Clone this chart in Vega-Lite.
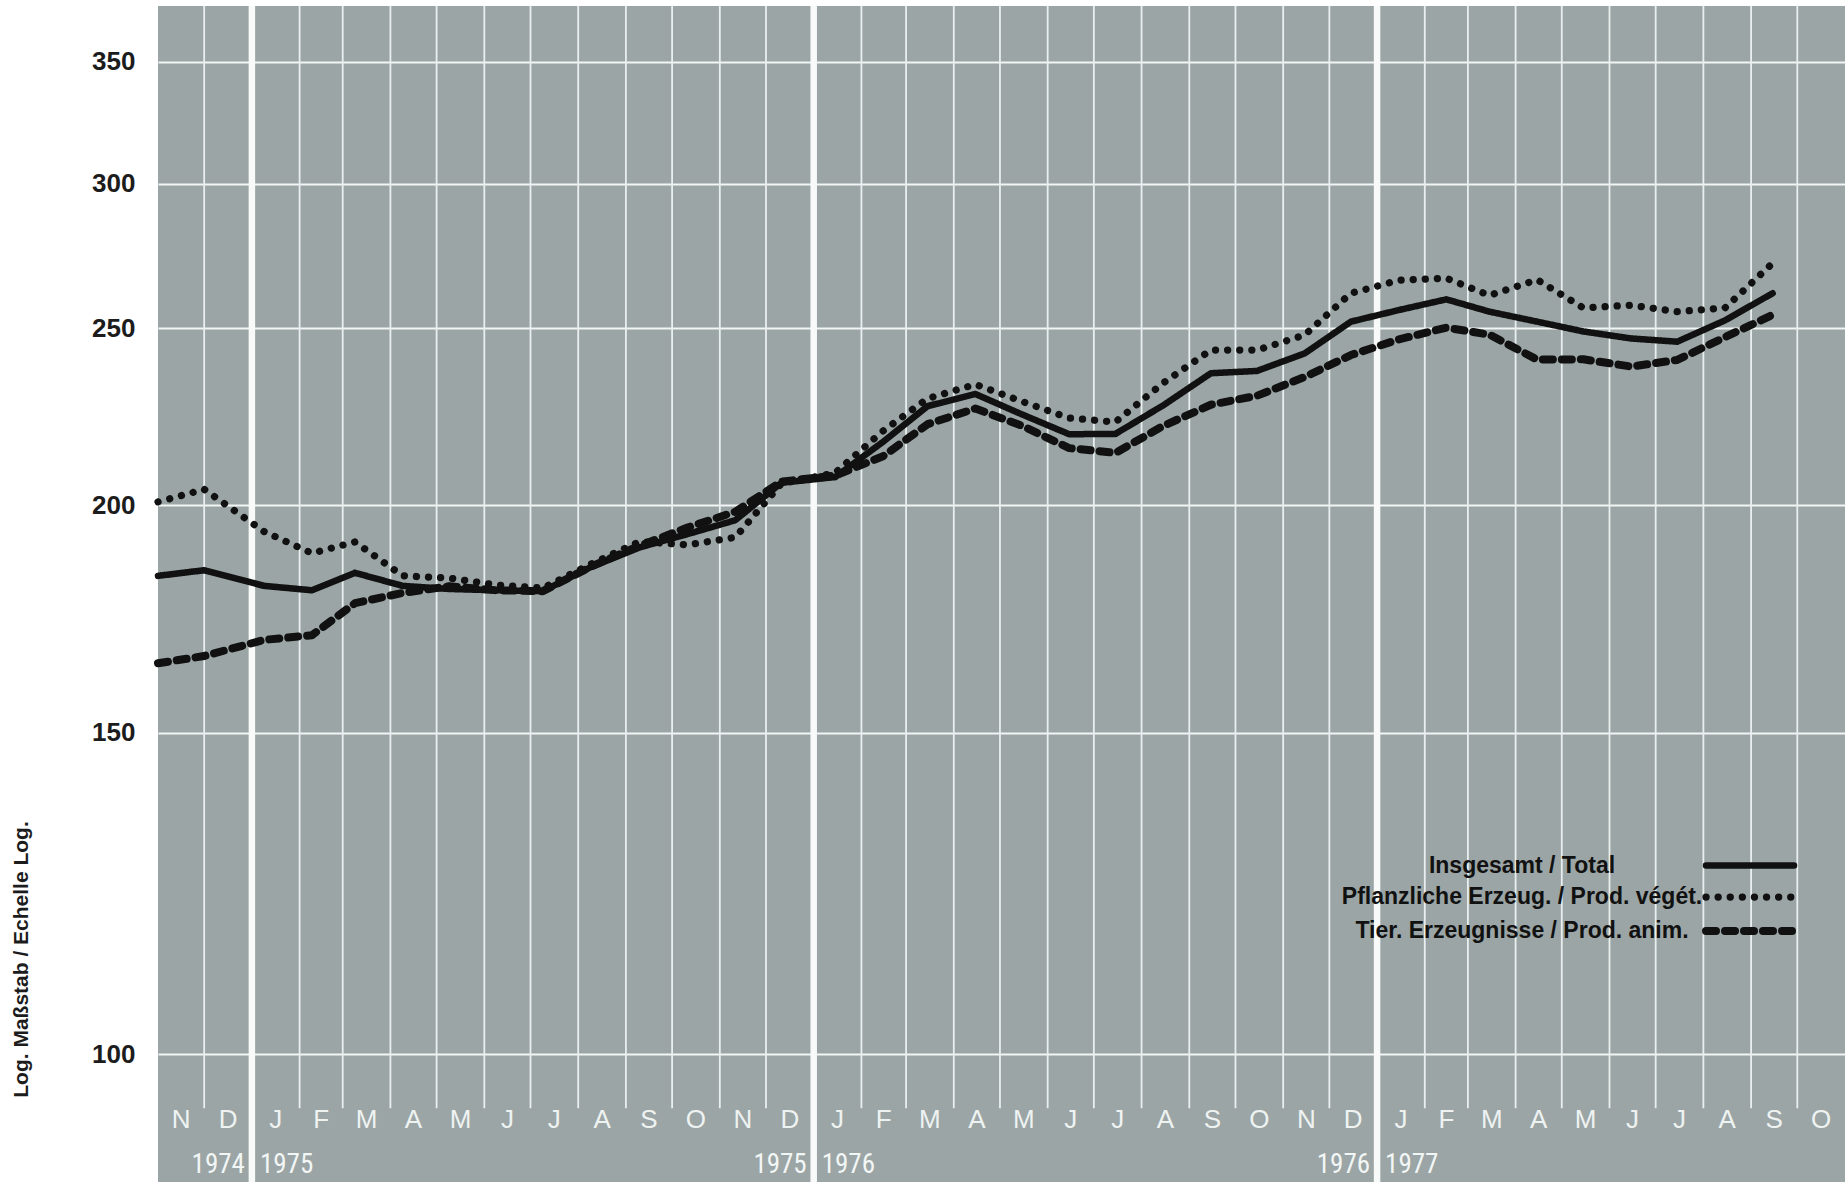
{
  "$schema": "https://vega.github.io/schema/vega-lite/v6.json",
  "width": 1687,
  "height": 1176,
  "autosize": "none",
  "padding": {"left": 158, "top": 6, "right": 0, "bottom": 0},
  "background": "white",
  "config": {"view": {"fill": "#9ba5a5", "stroke": null}, "font": "Liberation Sans"},
  "datasets": {
    "months": [
      {"date": "1974-11-01", "m": "N"}, {"date": "1974-12-01", "m": "D"},
      {"date": "1975-01-01", "m": "J"}, {"date": "1975-02-01", "m": "F"}, {"date": "1975-03-01", "m": "M"}, {"date": "1975-04-01", "m": "A"},
      {"date": "1975-05-01", "m": "M"}, {"date": "1975-06-01", "m": "J"}, {"date": "1975-07-01", "m": "J"}, {"date": "1975-08-01", "m": "A"},
      {"date": "1975-09-01", "m": "S"}, {"date": "1975-10-01", "m": "O"}, {"date": "1975-11-01", "m": "N"}, {"date": "1975-12-01", "m": "D"},
      {"date": "1976-01-01", "m": "J"}, {"date": "1976-02-01", "m": "F"}, {"date": "1976-03-01", "m": "M"}, {"date": "1976-04-01", "m": "A"},
      {"date": "1976-05-01", "m": "M"}, {"date": "1976-06-01", "m": "J"}, {"date": "1976-07-01", "m": "J"}, {"date": "1976-08-01", "m": "A"},
      {"date": "1976-09-01", "m": "S"}, {"date": "1976-10-01", "m": "O"}, {"date": "1976-11-01", "m": "N"}, {"date": "1976-12-01", "m": "D"},
      {"date": "1977-01-01", "m": "J"}, {"date": "1977-02-01", "m": "F"}, {"date": "1977-03-01", "m": "M"}, {"date": "1977-04-01", "m": "A"},
      {"date": "1977-05-01", "m": "M"}, {"date": "1977-06-01", "m": "J"}, {"date": "1977-07-01", "m": "J"}, {"date": "1977-08-01", "m": "A"},
      {"date": "1977-09-01", "m": "S"}, {"date": "1977-10-01", "m": "O"}
    ],
    "series": [
      {"date": "1974-11-01", "t": 182.9, "p": 200.8, "a": 163.8},
      {"date": "1974-12-01", "t": 184.2, "p": 204.0, "a": 165.3},
      {"date": "1975-01-09", "t": 180.6, "p": 193.4, "a": 168.7},
      {"date": "1975-02-09", "t": 179.6, "p": 188.2, "a": 169.7},
      {"date": "1975-03-09", "t": 183.6, "p": 190.9, "a": 176.7},
      {"date": "1975-04-09", "t": 180.6, "p": 182.9, "a": 179.0},
      {"date": "1975-05-09", "t": 179.9, "p": 182.4, "a": 180.5},
      {"date": "1975-06-09", "t": 179.6, "p": 180.8, "a": 179.6},
      {"date": "1975-07-09", "t": 179.4, "p": 180.1, "a": 179.4},
      {"date": "1975-08-09", "t": 184.9, "p": 185.6, "a": 185.0},
      {"date": "1975-09-10", "t": 189.6, "p": 191.0, "a": 190.0},
      {"date": "1975-10-11", "t": 192.8, "p": 190.2, "a": 194.4},
      {"date": "1975-11-11", "t": 196.2, "p": 192.0, "a": 198.3},
      {"date": "1975-12-11", "t": 205.7, "p": 205.5, "a": 206.0},
      {"date": "1976-01-15", "t": 207.2, "p": 208.3, "a": 207.6},
      {"date": "1976-02-15", "t": 216.6, "p": 219.6, "a": 212.7},
      {"date": "1976-03-15", "t": 226.6, "p": 228.8, "a": 221.5},
      {"date": "1976-04-15", "t": 230.1, "p": 232.9, "a": 225.9},
      {"date": "1976-05-15", "t": 224.3, "p": 228.0, "a": 221.1},
      {"date": "1976-06-15", "t": 218.7, "p": 223.2, "a": 214.9},
      {"date": "1976-07-15", "t": 218.8, "p": 222.1, "a": 213.6},
      {"date": "1976-08-15", "t": 226.8, "p": 233.3, "a": 221.0},
      {"date": "1976-09-15", "t": 236.2, "p": 243.2, "a": 227.0},
      {"date": "1976-10-15", "t": 236.9, "p": 243.2, "a": 229.6},
      {"date": "1976-11-15", "t": 242.2, "p": 247.9, "a": 235.1},
      {"date": "1976-12-15", "t": 252.1, "p": 261.3, "a": 241.7},
      {"date": "1977-01-15", "t": 255.8, "p": 265.6, "a": 246.5},
      {"date": "1977-02-15", "t": 259.3, "p": 266.3, "a": 250.2},
      {"date": "1977-03-15", "t": 255.3, "p": 260.6, "a": 248.0},
      {"date": "1977-04-15", "t": 252.1, "p": 265.8, "a": 240.3},
      {"date": "1977-05-15", "t": 249.0, "p": 256.5, "a": 240.4},
      {"date": "1977-06-15", "t": 246.8, "p": 257.4, "a": 238.2},
      {"date": "1977-07-15", "t": 245.8, "p": 255.3, "a": 240.2},
      {"date": "1977-08-15", "t": 252.5, "p": 256.5, "a": 247.2},
      {"date": "1977-09-15", "t": 261.3, "p": 271.4, "a": 254.3}
    ]
  },
  "layer": [
    {
      "data": {"name": "months"},
      "transform": [{"filter": "utcmonth(datum.date) != 0 && utcyear(datum.date) + utcmonth(datum.date) / 12 > 1974.9"}],
      "mark": {"type": "rule", "color": "#e9efee", "strokeWidth": 1.8},
      "encoding": {
        "x": {"field": "date", "type": "temporal", "axis": null,
              "scale": {"type": "utc", "domain": [{"year": 1974, "month": 11, "date": 1, "utc": true}, {"year": 1977, "month": 11, "date": 1, "utc": true}]}},
        "y": {"datum": 375.5},
        "y2": {"datum": 93.4}
      }
    },
    {
      "data": {"name": "months"},
      "transform": [{"filter": "utcmonth(datum.date) == 0"}],
      "mark": {"type": "rule", "color": "#f8faf9", "strokeWidth": 6.5},
      "encoding": {
        "x": {"field": "date", "type": "temporal", "axis": null}
      }
    },
    {
      "data": {"name": "months"},
      "mark": {"type": "text", "color": "#eef3f2", "fontSize": 26, "font": "Liberation Sans", "align": "center", "baseline": "middle"},
      "encoding": {
        "x": {"field": "date", "type": "temporal", "timeUnit": "utcyearmonth", "bandPosition": 0.5, "axis": null},
        "y": {"datum": 92},
        "text": {"field": "m"}
      }
    },
    {
      "data": {"values": [{"label": "1974", "date": "1975-01-01"}, {"label": "1975", "date": "1976-01-01"}, {"label": "1976", "date": "1977-01-01"}]},
      "mark": {"type": "text", "color": "#f2f6f5", "fontSize": 27, "font": "Liberation Sans Narrow, Noto Sans ExtraCondensed, Noto Sans Condensed, Roboto Condensed, DejaVu Sans Condensed, sans-serif", "align": "right", "baseline": "middle", "dx": -7},
      "encoding": {
        "x": {"field": "date", "type": "temporal", "axis": null},
        "y": {"datum": 86.9},
        "text": {"field": "label"}
      }
    },
    {
      "data": {"values": [{"label": "1975", "date": "1975-01-01"}, {"label": "1976", "date": "1976-01-01"}, {"label": "1977", "date": "1977-01-01"}]},
      "mark": {"type": "text", "color": "#f2f6f5", "fontSize": 27, "font": "Liberation Sans Narrow, Noto Sans ExtraCondensed, Noto Sans Condensed, Roboto Condensed, DejaVu Sans Condensed, sans-serif", "align": "left", "baseline": "middle", "dx": 8},
      "encoding": {
        "x": {"field": "date", "type": "temporal", "axis": null},
        "y": {"datum": 86.9},
        "text": {"field": "label"}
      }
    },
    {
      "data": {"name": "series"},
      "transform": [{"fold": ["t", "p", "a"], "as": ["k", "v"]}],
      "mark": {"type": "line", "color": "#111111", "strokeCap": "round", "strokeJoin": "round"},
      "encoding": {
        "x": {"field": "date", "type": "temporal", "axis": null},
        "y": {
          "field": "v", "type": "quantitative",
          "scale": {"type": "log", "domain": [85.1, 375.5], "nice": false},
          "axis": {
            "values": [100, 150, 200, 250, 300, 350], "format": "d",
            "grid": true, "gridColor": "#f1f5f4", "gridWidth": 2, "gridOpacity": 1,
            "ticks": false, "domain": false,
            "labelFont": "Liberation Sans", "labelFontSize": 26, "labelFontWeight": "bold", "labelColor": "#1c1c1c", "labelPadding": 23,
            "title": "Log. Maßstab / Echelle Log.", "titleFont": "Liberation Sans", "titleFontSize": 21, "titleFontWeight": "bold", "titleColor": "#1c1c1c",
            "titleX": -137, "titleY": 953, "titleAngle": -90, "titleAlign": "center", "titleBaseline": "middle"
          }
        },
        "strokeDash": {
          "field": "k", "type": "nominal",
          "scale": {"domain": ["t", "p", "a"], "range": [[1, 0], [0.1, 12], [10, 9]]},
          "legend": {
            "orient": "none", "legendX": 1547, "legendY": 845, "title": null, "padding": 0,
            "symbolType": "M-4,0L4,0", "symbolSize": 484, "symbolStrokeColor": "#111111", "symbolOffset": 30,
            "labelFont": "Liberation Sans", "labelFontSize": 23, "labelFontWeight": "bold", "labelColor": "#111111",
            "labelAlign": "center", "labelOffset": -243, "labelLimit": 600, "rowPadding": 3,
            "labelExpr": "datum.label == 't' ? 'Insgesamt / Total' : datum.label == 'p' ? 'Pflanzliche Erzeug. / Prod. végét.' : 'Tier. Erzeugnisse / Prod. anim.'",
            "encode": {"symbols": {"update": {
              "shape": {"value": "M-4,0L4,0"},
              "size": {"value": 484},
              "stroke": {"value": "#111111"},
              "strokeCap": {"value": "round"},
              "strokeDash": {"scale": "strokeDash", "field": "value"},
              "strokeWidth": {"scale": "strokeWidth", "field": "value"},
              "opacity": {"value": 1}
            }}}
          }
        },
        "strokeWidth": {
          "field": "k", "type": "nominal",
          "scale": {"domain": ["t", "p", "a"], "range": [6.5, 8, 5]},
          "legend": {
            "orient": "none", "legendX": 1547, "legendY": 845, "title": null, "padding": 0,
            "symbolType": "M-4,0L4,0", "symbolSize": 484, "symbolStrokeColor": "#111111", "symbolOffset": 30,
            "labelFont": "Liberation Sans", "labelFontSize": 23, "labelFontWeight": "bold", "labelColor": "#111111",
            "labelAlign": "center", "labelOffset": -243, "labelLimit": 600, "rowPadding": 3,
            "labelExpr": "datum.label == 't' ? 'Insgesamt / Total' : datum.label == 'p' ? 'Pflanzliche Erzeug. / Prod. végét.' : 'Tier. Erzeugnisse / Prod. anim.'",
            "encode": {"symbols": {"update": {
              "shape": {"value": "M-4,0L4,0"},
              "size": {"value": 484},
              "stroke": {"value": "#111111"},
              "strokeCap": {"value": "round"},
              "strokeDash": {"scale": "strokeDash", "field": "value"},
              "strokeWidth": {"scale": "strokeWidth", "field": "value"},
              "opacity": {"value": 1}
            }}}
          }
        }
      }
    }
  ]
}
